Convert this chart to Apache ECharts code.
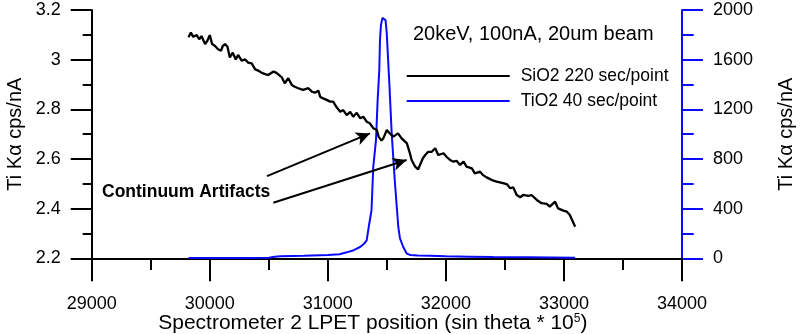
<!DOCTYPE html>
<html><head><meta charset="utf-8">
<script src="https://cdn.jsdelivr.net/npm/echarts@6/dist/echarts.min.js"></script>
<style>html,body{margin:0;padding:0;background:#fff}#c{width:800px;height:334px}</style>
</head><body><div id="c"></div>
<script>
// SiO2 220 sec/point (left axis)
const sio2X = [29820,29840,29860,29890,29910,29930,29960,29980,30000,30020,30045,30070,30095,30110,30130,30150,30170,30195,30220,30240,30270,30300,30325,30355,30385,30410,30440,30470,30495,30540,30565,30610,30635,30665,30695,30720,30750,30790,30835,30865,30890,30920,30935,30960,30990,31020,31045,31075,31105,31130,31160,31190,31215,31245,31275,31300,31330,31355,31385,31415,31430,31455,31470,31500,31525,31555,31595,31625,31670,31680,31695,31710,31740,31765,31780,31805,31825,31850,31880,31910,31935,31980,32005,32035,32065,32090,32120,32150,32175,32220,32245,32290,32315,32345,32390,32430,32475,32515,32545,32570,32600,32630,32655,32700,32725,32770,32810,32855,32880,32925,32950,32995,33025,33050,33095];
const sio2Y = [3.090,3.109,3.092,3.099,3.082,3.095,3.063,3.076,3.099,3.063,3.055,3.042,3.036,3.055,3.063,3.052,3.009,3.028,3.001,3.019,2.996,3.001,2.988,2.985,2.961,2.956,2.947,2.942,2.938,2.952,2.947,2.929,2.905,2.925,2.898,2.891,2.885,2.878,2.885,2.871,2.867,2.875,2.851,2.844,2.838,2.831,2.831,2.808,2.790,2.797,2.777,2.790,2.770,2.786,2.764,2.770,2.750,2.744,2.724,2.717,2.690,2.674,2.683,2.717,2.703,2.690,2.703,2.683,2.663,2.670,2.623,2.596,2.569,2.558,2.562,2.603,2.616,2.629,2.629,2.643,2.616,2.623,2.609,2.596,2.589,2.593,2.576,2.589,2.569,2.562,2.542,2.549,2.535,2.526,2.515,2.509,2.504,2.499,2.482,2.486,2.455,2.446,2.455,2.451,2.455,2.435,2.422,2.419,2.408,2.428,2.401,2.392,2.388,2.374,2.327];
// TiO2 40 sec/point (right axis)
const tio2X = [29820,30000,30300,30500,30550,30600,30800,31000,31100,31160,31220,31273,31310,31329,31349,31370,31385,31408,31422,31436,31442,31450,31463,31476,31489,31499,31521,31541,31569,31597,31611,31639,31668,31700,31760,31865,32000,32200,32400,32700,33095];
const tio2Y = [2,2,3,4,12,16,20,26,33,48,65,91,120,145,266,387,736,952,1274,1516,1758,1879,1936,1946,1919,1815,1409,1006,602,252,161,91,38,27,22,20,16,13,10,8,5];
// annotation arrows [start, end] in data coordinates
const arrowStarts = [[30485,2.531],[30538,2.424]];
const arrowEnds = [[31357,2.703],[31668,2.596]];
const seriesNames = ['SiO2 220 sec/point','TiO2 40 sec/point'];

const FONT = "'Liberation Sans', Arial, sans-serif";
const BLUE = '#0a0aff';
const zip = (xs, ys) => xs.map((x, i) => [x, ys[i]]);
const plain = v => String(v);
const chart = echarts.init(document.getElementById('c'), null, {renderer: 'canvas'});
chart.setOption({
  animation: false,
  textStyle: {fontFamily: FONT},
  grid: {left: 91.7, right: 118, top: 10, bottom: 75.7, containLabel: false, outerBoundsMode: 'none'},
  title: {text: '20keV, 100nA, 20um beam', left: 413, top: 24, padding: 0,
    textStyle: {fontFamily: FONT, fontSize: 20, fontWeight: 'normal', color: '#000'}},
  legend: {orient: 'vertical', left: 406.7, top: 67, itemWidth: 103, itemHeight: 2, itemGap: 7, padding: 0,
    icon: 'rect', selectedMode: false,
    textStyle: {fontFamily: FONT, fontSize: 17.5, color: '#000', padding: [0, 0, 0, 6]},
    data: seriesNames},
  xAxis: {type: 'value', min: 29000, max: 34000, interval: 1000,
    name: 'Spectrometer 2 LPET position (sin theta * 10{sup|5})',
    nameLocation: 'middle', nameGap: 54, nameMoveOverlap: false,
    nameTextStyle: {fontFamily: FONT, fontSize: 21, color: '#000', padding: [0, 28, 0, 0],
      rich: {sup: {fontFamily: FONT, fontSize: 12, color: '#000', verticalAlign: 'top', padding: [0, 0, 8, 0]}}},
    axisLine: {show: true, onZero: false, lineStyle: {color: '#000', width: 2}},
    axisTick: {show: true, inside: false, length: 23, lineStyle: {color: '#000', width: 2}},
    minorTick: {show: true, splitNumber: 2, length: 11.7, lineStyle: {color: '#000', width: 2}},
    axisLabel: {margin: 37, fontSize: 18, color: '#000', fontFamily: FONT, formatter: plain},
    splitLine: {show: false}},
  yAxis: [
    {type: 'value', position: 'left', min: 2.2, max: 3.2, interval: 0.2,
      name: 'Ti Kα cps/nA', nameLocation: 'middle', nameGap: 66, nameMoveOverlap: false,
      nameTextStyle: {fontFamily: FONT, fontSize: 20, color: '#000'},
      axisLine: {show: true, onZero: false, lineStyle: {color: '#000', width: 2}},
      axisTick: {show: true, inside: false, length: 21, lineStyle: {color: '#000', width: 2}},
      minorTick: {show: true, splitNumber: 2, length: 9, lineStyle: {color: '#000', width: 2}},
      axisLabel: {margin: 31, fontSize: 18, color: '#000', fontFamily: FONT},
      splitLine: {show: false}},
    {type: 'value', position: 'right', min: 0, max: 2000, interval: 400,
      name: 'Ti Kα cps/nA', nameLocation: 'middle', nameGap: 94, nameMoveOverlap: false,
      nameTextStyle: {fontFamily: FONT, fontSize: 20, color: '#000'},
      axisLine: {show: true, onZero: false, lineStyle: {color: BLUE, width: 2}},
      axisTick: {show: true, inside: false, length: 21, lineStyle: {color: BLUE, width: 2}},
      minorTick: {show: true, splitNumber: 2, length: 11.7, lineStyle: {color: BLUE, width: 2}},
      axisLabel: {margin: 31, fontSize: 18, color: '#000', fontFamily: FONT, formatter: plain},
      splitLine: {show: false}}
  ],
  graphic: [
    {type: 'text', left: 102, top: 183, z: 100,
      style: {text: 'Continuum Artifacts', font: "bold 17.5px 'Liberation Sans', Arial, sans-serif", fill: '#000'}}
  ],
  series: [
    {name: seriesNames[1], type: 'line', yAxisIndex: 1, data: zip(tio2X, tio2Y), showSymbol: false, symbol: 'none',
      lineStyle: {color: BLUE, width: 2}, itemStyle: {color: BLUE}, z: 2},
    {name: seriesNames[0], type: 'line', yAxisIndex: 0, data: zip(sio2X, sio2Y), showSymbol: false, symbol: 'none',
      lineStyle: {color: '#000', width: 2.3}, itemStyle: {color: '#000'}, z: 3,
      markLine: {silent: true, symbol: ['none', 'arrow'], symbolSize: [10, 14], animation: false,
        label: {show: false}, lineStyle: {color: '#000', width: 2, type: 'solid'},
        data: arrowStarts.map((s, i) => [{coord: s}, {coord: arrowEnds[i]}])}}
  ]
});
</script>
</body></html>
